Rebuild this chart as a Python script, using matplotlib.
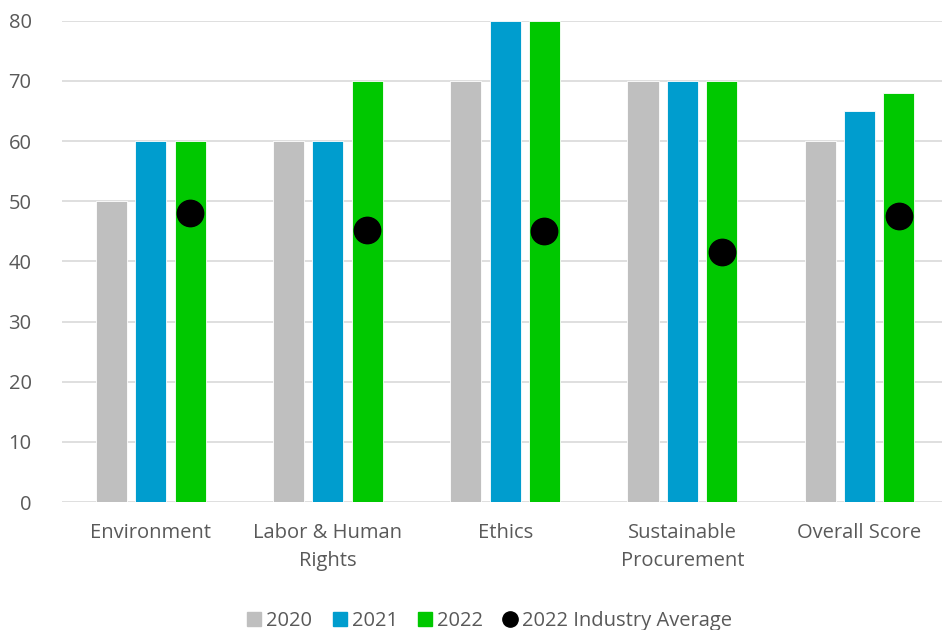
import numpy as np
import matplotlib.pyplot as plt
from matplotlib.lines import Line2D
from matplotlib.patches import Patch

# Данные
categories = ['Environment', 'Labor & Human\nRights', 'Ethics', 'Sustainable\nProcurement', 'Overall Score']
s2020 = [50, 60, 70, 70, 60]
s2021 = [60, 60, 80, 70, 65]
s2022 = [60, 70, 80, 70, 68]
industry_avg = [48.1, 45.3, 45.1, 41.5, 47.6]

c2020 = '#BFBFBF'
c2021 = '#009DCE'
c2022 = '#00C800'
txt = '#595959'

plt.rcParams['font.family'] = ['Open Sans', 'DejaVu Sans']

fig = plt.figure(figsize=(9.42, 6.3), dpi=100)
ax = fig.add_axes([0.066, 0.203, 0.9405, 0.764])

x = np.arange(len(categories))
w = 0.175
step = 0.222

ax.bar(x - step, s2020, w, color=c2020, edgecolor='white', linewidth=0.6, zorder=2)
ax.bar(x, s2021, w, color=c2021, edgecolor='white', linewidth=0.6, zorder=2)
ax.bar(x + step, s2022, w, color=c2022, edgecolor='white', linewidth=0.6, zorder=2)
ax.plot(x + step, industry_avg, 'o', color='black', markersize=19, linestyle='none', zorder=3)

ax.set_xlim(-0.5, len(categories) - 0.5)
ax.set_ylim(0, 80)
ax.set_yticks(range(0, 81, 10))
ax.grid(axis='y', color='#D9D9D9', linewidth=1.2, zorder=0)
ax.set_axisbelow(True)
for s in ax.spines.values():
    s.set_visible(False)
ax.tick_params(axis='both', length=0, labelsize=14.5, colors=txt)
ax.tick_params(axis='y', pad=22)
ax.set_xticks(x)
ax.set_xticklabels(categories, linespacing=1.55)
ax.tick_params(axis='x', pad=15)

handles = [Patch(color=c2020, label='2020'),
           Patch(color=c2021, label='2021'),
           Patch(color=c2022, label='2022'),
           Line2D([], [], marker='o', color='black', linestyle='none', markersize=11,
                  label='2022 Industry Average')]
leg = fig.legend(handles=handles, loc='lower center', bbox_to_anchor=(0.52, -0.03), ncol=4,
                 frameon=False, fontsize=14.5, handlelength=0.7, handleheight=0.7,
                 handletextpad=0.25, columnspacing=1.0)
for t in leg.get_texts():
    t.set_color(txt)

fig.savefig('out.png', dpi=100)
